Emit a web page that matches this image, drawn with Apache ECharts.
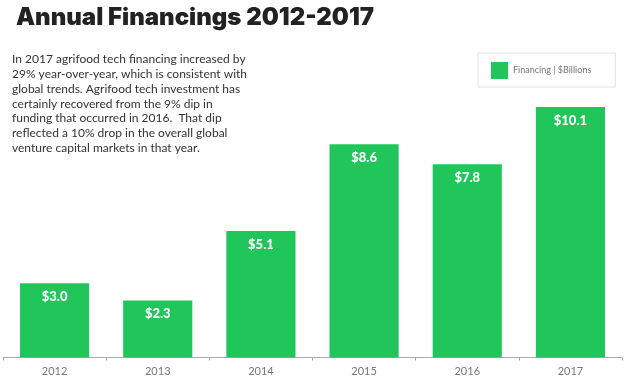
<!DOCTYPE html>
<html><head><meta charset="utf-8">
<script src="https://cdn.jsdelivr.net/npm/echarts@6/dist/echarts.min.js"></script>
<style>html,body{margin:0;padding:0;background:#fff}#c{width:640px;height:385px}</style>
</head><body><div id="c"></div>
<script>
const categories = ['2012','2013','2014','2015','2016','2017'];
const financing = [3.0, 2.3, 5.1, 8.6, 7.8, 10.1];
const seriesName = 'Financing | $Billions';
const titleText = 'Annual Financings 2012-2017';
const bodyLines = [
  'In 2017 agrifood tech financing increased by',
  '29% year-over-year, which is consistent with',
  'global trends. Agrifood tech investment has',
  'certainly recovered from the 9% dip in',
  'funding that occurred in 2016.  That dip',
  'reflected a 10% drop in the overall global',
  'venture capital markets in that year.'
];
const chart = echarts.init(document.getElementById('c'));
chart.setOption({
  animation: false,
  title: [
    { text: titleText, left: 11, top: 1,
      textStyle: { fontFamily: 'Inter', fontWeight: 900, fontSize: 24, color: '#222' } },
    { text: bodyLines.join('\n'), left: 12, top: 52, padding: 0,
      textStyle: { fontFamily: 'Lato', fontWeight: 'normal', fontSize: 12, lineHeight: 14.8, color: '#333' } }
  ],
  legend: {
    left: 478, top: 53, orient: 'horizontal',
    padding: [9, 24, 8, 13],
    borderColor: '#e2e2e2', borderWidth: 1,
    itemWidth: 17, itemHeight: 17, itemGap: 5,
    icon: 'rect',
    textStyle: { fontFamily: 'Lato', fontSize: 9, color: '#777' },
    data: [seriesName]
  },
  grid: { left: 3, right: 18, top: 60, bottom: 27.5, containLabel: false },
  xAxis: {
    type: 'category', data: categories,
    axisLine: { lineStyle: { color: '#aaa', width: 1 } },
    axisTick: { show: true, length: 3, lineStyle: { color: '#aaa' } },
    axisLabel: { color: '#777', fontFamily: 'Lato', fontSize: 11, margin: 8 }
  },
  yAxis: { type: 'value', min: 0, max: 12, show: false, splitLine: { show: false } },
  series: [{
    name: seriesName, type: 'bar', data: financing,
    barWidth: '67%',
    itemStyle: { color: '#21c65a' },
    label: {
      show: true, position: 'insideTop', distance: 7,
      formatter: p => '$' + p.value.toFixed(1),
      color: '#fff', fontFamily: 'Lato', fontWeight: 900, fontSize: 13
    }
  }]
});
</script></body></html>
